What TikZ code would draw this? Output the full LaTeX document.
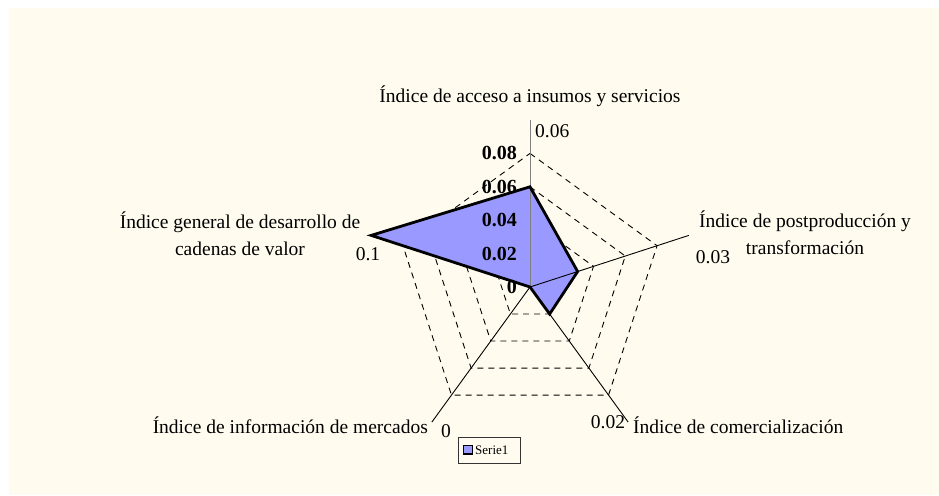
\documentclass[tikz,border=0pt]{standalone}
\usepackage{fontspec}
\setmainfont{Liberation Serif}
\definecolor{bgcream}{HTML}{FFFCEF}
\definecolor{serie}{HTML}{9999FF}
\begin{document}
\begin{tikzpicture}[x=1pt,y=1pt,
  lbl/.style={font=\fontsize{19.5}{27}\selectfont, inner sep=0pt},
  ticklbl/.style={font=\bfseries\fontsize{20}{22}\selectfont, inner sep=0pt, anchor=east},
  ring/.style={dash pattern=on 6pt off 5pt, line width=0.9pt},
  axisline/.style={line width=0.9pt},
  serieline/.style={line width=2.8pt, line join=miter}]
\useasboundingbox (0,0) rectangle (939,-495);
\fill[bgcream] (9,-8) rectangle (939,-495);
\coordinate (O) at (530,-287);
\foreach \a/\n in {90/A,18/B,-54/C,-126/D,162/E} {
  \foreach \k in {1,...,5} {
    \coordinate (\n\k) at ([shift={(\a:{\k*33.4})}]O);
  }
}
\coordinate (Bv) at ([shift={(18:50.1)}]O);
% grid rings
\foreach \k in {1,...,4} {
  \draw[ring] (A\k) -- (B\k) -- (C\k) -- (D\k) -- (E\k) -- cycle;
}
% data area
\fill[serie] (A3) -- (Bv) -- (C1) -- (O) -- (E5) -- cycle;
% axes
\draw[axisline] (O) -- (B5);
\draw[axisline] (O) -- (C5);
\draw[axisline] (O) -- (D5);
\draw[axisline] (O) -- (E5);
\draw[axisline, gray] (O) -- (A5);
% data outline
\draw[serieline] (A3) -- (Bv) -- (C1) -- (O) -- (E5) -- cycle;
% value axis labels
\node[ticklbl] (t0) at ([xshift=-13pt]O) {0};
\node[ticklbl] (t1) at ([xshift=-13pt]A1) {0.02};
\node[ticklbl] (t2) at ([xshift=-13pt]A2) {0.04};
\node[ticklbl] (t3) at ([xshift=-13pt]A3) {0.06};
\node[ticklbl] (t4) at ([xshift=-13pt]A4) {0.08};
% data labels
\node[lbl, anchor=base west] (dA) at (535,-137) {0.06};
\node[lbl, anchor=base] (dB) at (713,-263) {0.03};
\node[lbl, anchor=base] (dC) at (608,-428) {0.02};
\node[lbl, anchor=base] (dD) at (446,-437) {0};
\node[lbl, anchor=base] (dE) at (368,-260) {0.1};
% category labels
\node[lbl, anchor=base] (cA) at (530,-102) {Índice de acceso a insumos y servicios};
\node[lbl, align=center] (cB) at (805,-232.5) {Índice de postproducción y\\transformación};
\node[lbl, anchor=base west] (cC) at (633,-433) {Índice de comercialización};
\node[lbl, anchor=base east] (cD) at (428,-433) {Índice de información de mercados};
\node[lbl, align=center] (cE) at (240,-234) {Índice general de desarrollo de\\cadenas de valor};
% legend
\draw[line width=0.8pt, black!80] (458,-437) rectangle (520,-463);
\draw[fill=serie, line width=1.5pt] (463.5,-445.5) rectangle (472.5,-454);
\node[font=\fontsize{13}{15}\selectfont, inner sep=0pt, anchor=base west] (leg) at (475,-454.5) {Serie1};
\end{tikzpicture}
\end{document}
